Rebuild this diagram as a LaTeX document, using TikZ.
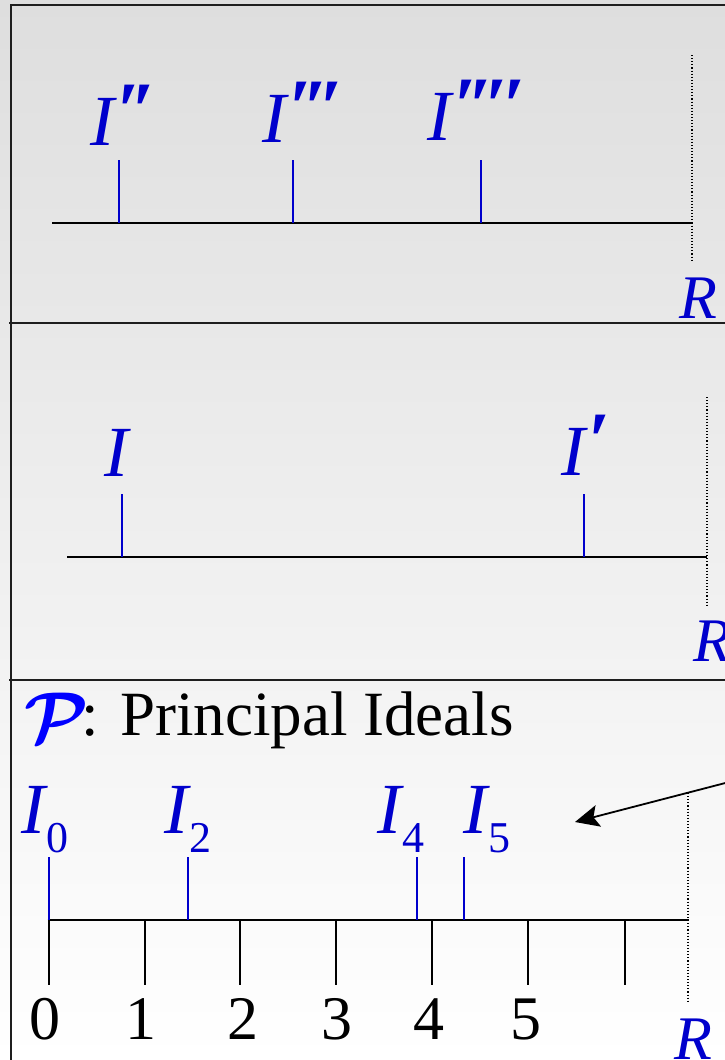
\documentclass[tikz,border=0pt]{standalone}
\usepackage{fontspec}
\usepackage{bm}
\usepackage{graphicx}
\setmainfont{Liberation Serif}
\usetikzlibrary{arrows.meta}
\definecolor{lblue}{RGB}{0,0,204}
\definecolor{pblue}{RGB}{0,0,255}
\definecolor{bgtop}{RGB}{222,222,222}
\definecolor{framec}{RGB}{30,30,30}
\newcommand{\pr}{\raisebox{8pt}{\fontsize{80}{80}\selectfont\bfseries\itshape\char"2032}}
\tikzset{
  lab/.style={inner sep=0pt, anchor=base west, text=lblue, font=\fontsize{72}{80}\selectfont\itshape},
  rlab/.style={inner sep=0pt, anchor=base west, text=lblue, font=\fontsize{62}{70}\selectfont\itshape},
  num/.style={inner sep=0pt, anchor=base, font=\fontsize{62}{70}\selectfont},
  axisline/.style={line width=2.4pt, black},
  btick/.style={line width=1.6pt, lblue},
  ktick/.style={line width=1.7pt, black},
  rline/.style={line width=1.1pt, black, dotted},
  frame/.style={line width=2pt, framec},
}
\begin{document}
\begin{tikzpicture}[x=1pt,y=-1pt]
\useasboundingbox (0,0) rectangle (725,1060);
\clip (0,0) rectangle (725,1060);
\shade[top color=bgtop, bottom color=white] (0,0) rectangle (725,1060);
% frames
\draw[frame] (11,1070) -- (11,5) -- (740,5);
\draw[frame] (9,323) -- (740,323);
\draw[frame] (9,680) -- (740,680);

% ---------- panel 1
\coordinate (a1s) at (52,223);
\coordinate (a1e) at (692,223);
\draw[axisline] (a1s) -- (a1e);
\coordinate (r1t) at (692,55);
\coordinate (r1b) at (692,262);
\draw[rline] (r1t) -- (r1b);
\coordinate (t1a) at (119,160); \coordinate (t1ab) at (119,223);
\coordinate (t1b) at (293,160); \coordinate (t1bb) at (293,223);
\coordinate (t1c) at (481,160); \coordinate (t1cb) at (481,223);
\draw[btick] (t1a) -- (t1ab);
\draw[btick] (t1b) -- (t1bb);
\draw[btick] (t1c) -- (t1cb);
\node[lab] (Ipp) at (90,145) {I\kern2pt\pr\kern-7pt\pr};
\node[lab] (Ippp) at (262,142) {I\kern2pt\pr\kern-7pt\pr\kern-7pt\pr};
\node[lab] (Ipppp) at (427,140) {I\kern2pt\pr\kern-7pt\pr\kern-7pt\pr\kern-4pt\pr};
\node[rlab] (R1) at (679,318) {R};

% ---------- panel 2
\coordinate (a2s) at (67,557);
\coordinate (a2e) at (707,557);
\draw[axisline] (a2s) -- (a2e);
\coordinate (r2t) at (707,397);
\coordinate (r2b) at (707,605);
\draw[rline] (r2t) -- (r2b);
\coordinate (t2a) at (122,494); \coordinate (t2ab) at (122,557);
\coordinate (t2b) at (584,494); \coordinate (t2bb) at (584,557);
\draw[btick] (t2a) -- (t2ab);
\draw[btick] (t2b) -- (t2bb);
\node[lab] (I) at (104,476) {I};
\node[lab] (Ip) at (561,475) {I\kern2pt\pr};
\node[rlab] (R2) at (693,661) {R};

% ---------- panel 3
\node[inner sep=0pt, anchor=base west] (P) at (24,735)
  {\color{pblue}\raisebox{-7pt}{\scalebox{7.2}{$\bm{\mathcal{P}}$}}\kern-7pt\color{black}\fontsize{63}{70}\selectfont: Principal Ideals};
\coordinate (a3s) at (47.5,920);
\coordinate (a3e) at (689,920);
\draw[axisline] (a3s) -- (a3e);
\coordinate (r3t) at (688,793);
\coordinate (r3b) at (688,1003);
\draw[rline] (r3t) -- (r3b);
\foreach \x/\n in {49/0,145/1,240/2,336/3,432/4,528/5,625/6}{
  \coordinate (k\n) at (\x,920);
  \coordinate (kb\n) at (\x,985);
  \draw[ktick] (k\n) -- (kb\n);
}
\foreach \x/\n in {45/0,141/1,243/2,336.6/3,429/4,526/5}{
  \node[num] (n\n) at (\x,1039) {\n};
}
\foreach \x/\n in {49/0,188/2,417/4,464/5}{
  \coordinate (b\n) at (\x,857);
  \coordinate (bb\n) at (\x,920);
  \draw[btick] (b\n) -- (bb\n);
}
\node[lab] (I0) at (21,833) {I\kern1pt\raisebox{-19pt}{\upshape\fontsize{44}{44}\selectfont 0}};
\node[lab] (I2) at (164,833) {I\kern1pt\raisebox{-19pt}{\upshape\fontsize{44}{44}\selectfont 2}};
\node[lab] (I4) at (377,833) {I\kern1pt\raisebox{-19pt}{\upshape\fontsize{44}{44}\selectfont 4}};
\node[lab] (I5) at (463,833) {I\kern1pt\raisebox{-19pt}{\upshape\fontsize{44}{44}\selectfont 5}};
\node[rlab] (R3) at (674,1059) {R};
\coordinate (arrS) at (760,774);
\coordinate (arrE) at (575,822);
\draw[line width=1.8pt, -{Stealth[length=24pt, width=22pt, inset=5pt]}] (arrS) -- (arrE);
\end{tikzpicture}
\end{document}
